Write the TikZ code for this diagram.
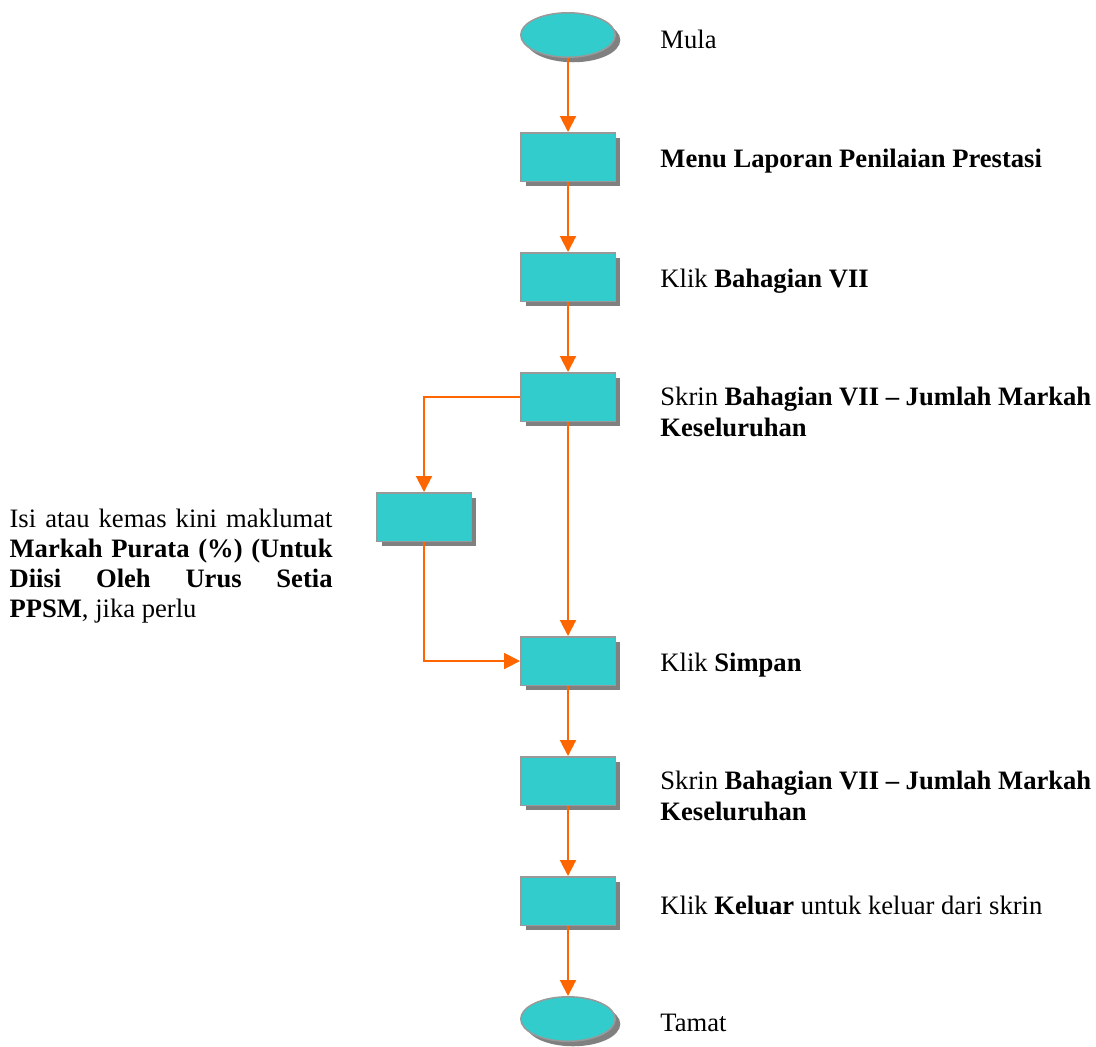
\documentclass[tikz,border=0pt]{standalone}
\usepackage{fontspec}
\setmainfont{Liberation Serif}
\usepackage{xcolor}
\usetikzlibrary{arrows.meta,positioning,shapes.geometric,shadows}

\definecolor{boxfill}{HTML}{33CCCC}
\definecolor{boxline}{HTML}{999999}
\definecolor{flowline}{HTML}{FF6600}

\begin{document}
\begin{tikzpicture}[
    x=0.5pt, y=-0.5pt,
    node distance=35pt,
    every node/.style={font=\fontsize{13.3pt}{15.4pt}\selectfont},
    process/.style={
        rectangle,
        draw=boxline,
        line width=0.75pt,
        fill=boxfill,
        minimum width=47.25pt,
        minimum height=24.25pt,
        drop shadow={shadow xshift=2.5pt, shadow yshift=-2.5pt,
                     fill=black!50, opacity=1}
    },
    terminal/.style={
        ellipse,
        draw=boxline,
        line width=0.75pt,
        fill=boxfill,
        minimum width=47.25pt,
        minimum height=22.25pt,
        drop shadow={shadow xshift=2.5pt, shadow yshift=-2.5pt,
                     fill=black!50, opacity=1}
    },
    note/.style={
        inner sep=0pt,
        align=left
    },
    arrow/.style={
        -{Triangle[length=8pt,width=8pt]},
        draw=flowline,
        line width=1pt
    }
]

\useasboundingbox (0,0) rectangle (1096,1046);

% =========================================================
% MAIN COLUMN
% =========================================================

\node[terminal] (mula) at (568,35) {};

\node[process, below=37pt of mula] (menu) {};

\node[process, below=of menu] (klik) {};

\node[process, below=of klik] (skrin) {};

\node[process, below=107pt of skrin] (simpan) {};

\node[process, below=of simpan] (skrinb) {};

\node[process, below=of skrinb] (keluar) {};

\node[terminal, below=of keluar] (tamat) {};


% =========================================================
% LEFT-HAND NODE
% =========================================================

\node[process, below=35pt of skrin, xshift=-72pt] (isi) {};


% =========================================================
% TEXTS
% =========================================================

\node[note, anchor=west] (tmula) at ([xshift=22pt,yshift=-2pt]mula.east) {Mula};

\node[note, anchor=west] (tmenu) at ([xshift=22pt,yshift=-2pt]menu.east)
    {\textbf{Menu Laporan Penilaian Prestasi}};

\node[note, anchor=west] (tklik) at ([xshift=22pt,yshift=-2pt]klik.east)
    {Klik \textbf{Bahagian VII}};

\node[note, anchor=north west] (tskrin) at ([xshift=22pt,yshift=5pt]skrin.east)
    {Skrin \textbf{Bahagian VII -- Jumlah Markah}\\
     \textbf{Keseluruhan}};

\node[note, anchor=west] (tsimpan) at ([xshift=22pt,yshift=-2pt]simpan.east)
    {Klik \textbf{Simpan}};

\node[note, anchor=north west] (tskrinb) at ([xshift=22pt,yshift=5pt]skrinb.east)
    {Skrin \textbf{Bahagian VII -- Jumlah Markah}\\
     \textbf{Keseluruhan}};

\node[note, anchor=west] (tkeluar) at ([xshift=22pt,yshift=-2pt]keluar.east)
    {Klik \textbf{Keluar} untuk keluar dari skrin};

\node[note, anchor=west] (ttamat) at ([xshift=22pt,yshift=-2pt]tamat.east) {Tamat};

\node[note, align=justify, text width=161.5pt, anchor=north east,
      font=\fontsize{13.3pt}{15pt}\selectfont] (tisi)
    at ([xshift=-21.5pt,yshift=4pt]isi.west)
    {\hyphenpenalty=10000\exhyphenpenalty=10000
     Isi atau kemas kini maklumat\linebreak
     \textbf{Markah Purata (\%) (Untuk\linebreak
     Diisi Oleh Urus Setia\linebreak PPSM}, jika perlu};


% =========================================================
% MAIN FLOW
% =========================================================

\draw[arrow] (mula) -- (menu);
\draw[arrow] (menu) -- (klik);
\draw[arrow] (klik) -- (skrin);
\draw[arrow] (skrin) -- (simpan);
\draw[arrow] (simpan) -- (skrinb);
\draw[arrow] (skrinb) -- (keluar);
\draw[arrow] (keluar) -- (tamat);

% Side branch through the left box
\draw[arrow] (skrin.west) -| (isi.north);
\draw[arrow] (isi.south) |- (simpan.west);

\end{tikzpicture}
\end{document}
